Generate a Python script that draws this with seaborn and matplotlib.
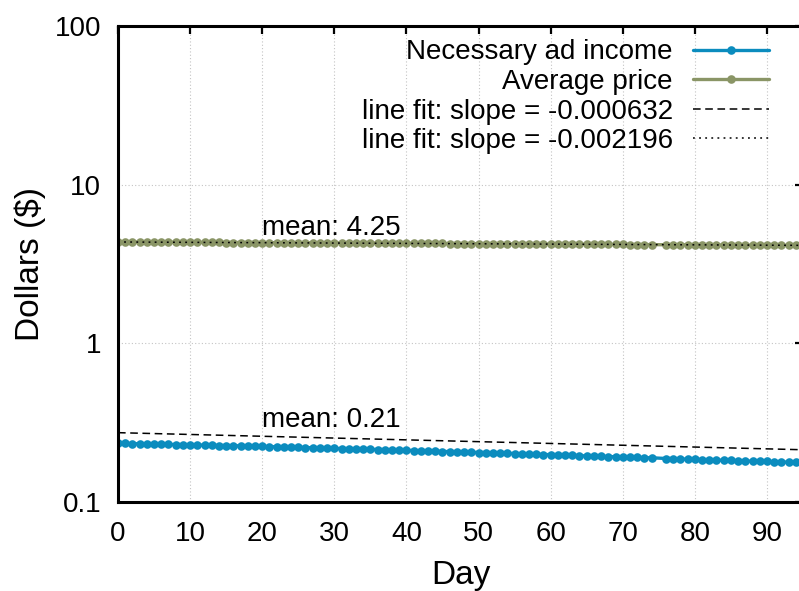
import numpy as np
import matplotlib
matplotlib.use("Agg")
import matplotlib.pyplot as plt
import seaborn as sns
from matplotlib.ticker import LogLocator, NullFormatter, FixedLocator, FixedFormatter

# Daily series (day 75 has no record)
days = [d for d in range(95) if d != 75]

ad_income = [
    0.234, 0.234, 0.233, 0.233, 0.232, 0.232, 0.231, 0.231, 0.230, 0.230,
    0.229, 0.229, 0.228, 0.228, 0.227, 0.227, 0.226, 0.226, 0.225, 0.224,
    0.224, 0.223, 0.223, 0.222, 0.222, 0.221, 0.220, 0.220, 0.219, 0.219,
    0.218, 0.217, 0.217, 0.216, 0.215, 0.215, 0.214, 0.214, 0.213, 0.212,
    0.212, 0.211, 0.210, 0.210, 0.209, 0.208, 0.208, 0.207, 0.206, 0.206,
    0.205, 0.205, 0.204, 0.203, 0.203, 0.202, 0.201, 0.201, 0.200, 0.199,
    0.199, 0.198, 0.197, 0.197, 0.196, 0.195, 0.195, 0.194, 0.193, 0.193,
    0.192, 0.192, 0.191, 0.190, 0.190,
    0.188, 0.188, 0.187, 0.186,
    0.186, 0.185, 0.184, 0.184, 0.183, 0.183, 0.182, 0.181, 0.181, 0.180,
    0.180, 0.179, 0.179, 0.178, 0.178,
]

avg_price = [
    4.36, 4.36, 4.35, 4.35, 4.35, 4.35, 4.34, 4.34, 4.34, 4.34,
    4.34, 4.33, 4.33, 4.33, 4.33, 4.32, 4.32, 4.32, 4.32, 4.32,
    4.31, 4.31, 4.31, 4.31, 4.30, 4.30, 4.30, 4.30, 4.29, 4.29,
    4.29, 4.29, 4.29, 4.28, 4.28, 4.28, 4.28, 4.27, 4.27, 4.27,
    4.27, 4.27, 4.26, 4.26, 4.26, 4.26, 4.25, 4.25, 4.25, 4.25,
    4.24, 4.24, 4.24, 4.24, 4.23, 4.23, 4.23, 4.23, 4.22, 4.22,
    4.22, 4.22, 4.22, 4.21, 4.21, 4.21, 4.21, 4.20, 4.20, 4.20,
    4.20, 4.19, 4.19, 4.19, 4.19,
    4.18, 4.18, 4.18, 4.18,
    4.17, 4.17, 4.17, 4.17, 4.16, 4.16, 4.16, 4.16, 4.15, 4.15,
    4.15, 4.15, 4.15, 4.14, 4.14,
]

series_names = ["Necessary ad income", "Average price"]
series_colors = ["#0b8cbe", "#8a9566"]

# Linear fits (slope per day, value at day 0)
fit_slopes = [-0.000632, -0.002196]
fit_intercepts = [0.2735, 4.353]
fit_styles = [(0, (5, 3)), (0, (1.2, 2.8))]

mean_labels = ["mean: 0.21", "mean: 4.25"]
mean_label_pos = [(20, 0.329), (20, 5.37)]

x_ticks = list(range(0, 100, 10))
y_ticks = [0.1, 1, 10, 100]
y_tick_labels = ["0.1", "1", "10", "100"]

sns.set_style("white")
plt.rcParams["font.family"] = ["Liberation Sans", "DejaVu Sans"]
plt.rcParams["text.color"] = "black"
plt.rcParams["axes.labelcolor"] = "black"

FS = 20

fig = plt.figure(figsize=(7.99, 5.91), dpi=100)
ax = fig.add_axes([118 / 799, 89 / 591, 685 / 799, 476 / 591])

for name, vals, col in zip(series_names, [ad_income, avg_price], series_colors):
    sns.lineplot(x=days, y=vals, ax=ax, color=col, linewidth=2.4,
                 marker="o", markersize=6.2, markeredgewidth=0, label=name)

fit_days = np.array([0, 95])
for slope, icpt, ls in zip(fit_slopes, fit_intercepts, fit_styles):
    sns.lineplot(x=fit_days, y=icpt + slope * fit_days, ax=ax, color="black",
                 linewidth=1.1, linestyle=ls,
                 label=f"line fit: slope = {slope:.6f}")

for txt, (tx, ty) in zip(mean_labels, mean_label_pos):
    ax.text(tx, ty, txt, fontsize=FS, ha="left", va="center", color="black")

ax.set_yscale("log")
ax.set_xlim(0, 95)
ax.set_ylim(0.1, 100)
ax.xaxis.set_major_locator(FixedLocator(x_ticks))
ax.yaxis.set_major_locator(FixedLocator(y_ticks))
ax.yaxis.set_major_formatter(FixedFormatter(y_tick_labels))
ax.yaxis.set_minor_locator(LogLocator(base=10, subs=range(2, 10)))
ax.yaxis.set_minor_formatter(NullFormatter())

ax.tick_params(which="both", direction="in", top=True, right=True,
               colors="black", labelcolor="black", labelsize=FS, width=1.6)
ax.tick_params(which="major", length=5.5)
ax.tick_params(which="minor", length=3)
ax.tick_params(axis="x", which="major", pad=14)
ax.tick_params(axis="y", which="major", pad=12)

for sp in ax.spines.values():
    sp.set_linewidth(2.2)
    sp.set_color("black")

ax.grid(True, which="major", color="#c4c4c4", linestyle=(0, (1, 2)), linewidth=0.8)
ax.set_axisbelow(True)

ax.set_xlabel("Day", fontsize=24, labelpad=9)
ax.set_ylabel("Dollars ($)", fontsize=24, labelpad=6)

leg = ax.legend(loc="upper right", bbox_to_anchor=(0.950, 0.972), markerfirst=False,
                frameon=False, fontsize=FS, handlelength=2.74, handletextpad=0.72,
                labelspacing=0.13, borderpad=0, borderaxespad=0, numpoints=1)
for t in leg.get_texts():
    t.set_color("black")

fig.savefig("out.png", dpi=100)
